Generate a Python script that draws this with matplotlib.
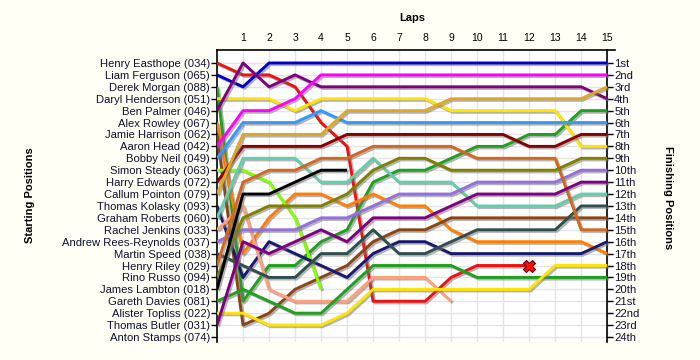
import matplotlib
matplotlib.use('Agg')
import matplotlib.pyplot as plt
import matplotlib.patheffects as pe

plt.rcParams['font.family'] = ['Liberation Sans', 'DejaVu Sans']

# grid order at the start
drivers = ['Henry Easthope (034)', 'Liam Ferguson (065)', 'Derek Morgan (088)', 'Daryl Henderson (051)',
           'Ben Palmer (046)', 'Alex Rowley (067)', 'Jamie Harrison (062)', 'Aaron Head (042)',
           'Bobby Neil (049)', 'Simon Steady (063)', 'Harry Edwards (072)', 'Callum Pointon (079)',
           'Thomas Kolasky (093)', 'Graham Roberts (060)', 'Rachel Jenkins (033)', 'Andrew Rees-Reynolds (037)',
           'Martin Speed (038)', 'Henry Riley (029)', 'Rino Russo (094)', 'James Lambton (018)',
           'Gareth Davies (081)', 'Alister Topliss (022)', 'Thomas Butler (031)', 'Anton Stamps (074)']

colours = ['#ee1111', '#0000cc', '#1fa01f', '#ffe400', '#800080', '#ff8000', '#8b4513', '#ff00ff',
           '#3399ff', '#80ff00', '#8b0000', '#e0a820', '#191970', '#66cdaa', '#ffa07a', '#9370db',
           '#2f4f4f', '#d2691e', '#808000', '#000000', '#1fa01f', '#ffe400', '#800080', '#999999']

laps = list(range(16))
lap_labels = [str(i) for i in range(1, 16)]

# position of each driver after each lap (lap 0 = grid), None = out
positions = [
    [1, 2, 2, 3, 6, 8, 21, 21, 21, 19, 18, 18, 18, None, None, None],
    [2, 3, 1, 1, 1, 1, 1, 1, 1, 1, 1, 1, 1, 1, 1, 1],
    [3, 21, 18, 18, 16, 15, 11, 10, 10, 9, 8, 8, 7, 7, 5, 5],
    [4, 4, 4, 5, 4, 4, 4, 4, 4, 5, 5, 5, 5, 5, 8, 8],
    [5, 1, 3, 2, 3, 3, 3, 3, 3, 3, 3, 3, 3, 3, 3, 4],
    [6, 17, 14, 12, 12, 13, 12, 13, 13, 15, 16, 16, 16, 16, 16, 17],
    [7, 23, 22, 20, 19, 18, 16, 15, 15, 14, 14, 14, 14, 14, 14, 14],
    [8, 5, 5, 4, 2, 2, 2, 2, 2, 2, 2, 2, 2, 2, 2, 2],
    [9, 6, 6, 6, 5, 6, 6, 6, 6, 6, 6, 6, 6, 6, 6, 6],
    [10, 10, 11, 14, 20, None, None, None, None, None, None, None, None, None, None, None],
    [11, 8, 8, 8, 8, 7, 7, 7, 7, 7, 7, 7, 8, 8, 7, 7],
    [12, 7, 7, 7, 7, 5, 5, 5, 5, 4, 4, 4, 4, 4, 4, 3],
    [13, 19, 16, 17, 18, 19, 17, 16, 16, 17, 17, 17, 17, 17, 17, 16],
    [14, 9, 9, 9, 11, 11, 9, 11, 11, 11, 13, 13, 13, 13, 12, 12],
    [15, 13, 20, 21, 21, 21, 19, 19, 19, 21, None, None, None, None, None, None],
    [16, 15, 15, 15, 14, 14, 13, 12, 12, 12, 11, 11, 11, 11, 10, 10],
    [17, 18, 19, 19, 17, 17, 15, 17, 17, 16, 15, 15, 15, 15, 13, 13],
    [18, 11, 10, 10, 9, 9, 8, 8, 8, 8, 9, 9, 9, 9, 15, 15],
    [19, 14, 13, 13, 13, 12, 10, 9, 9, 10, 10, 10, 10, 10, 9, 9],
    [20, 12, 12, 11, 10, 10, None, None, None, None, None, None, None, None, None, None],
    [21, 20, 21, 22, 22, 20, 18, 18, 18, 18, 19, 19, 19, 19, 19, 19],
    [22, 22, 23, 23, 23, 22, 20, 20, 20, 20, 20, 20, 20, 18, 18, 18],
    [23, 16, 17, 16, 15, 16, 14, 14, 14, 13, 12, 12, 12, 12, 11, 11],
    [None] * 16,
]

crash_lap = 12
crash_pos = 18

finish_labels = ['1st', '2nd', '3rd', '4th', '5th', '6th', '7th', '8th', '9th', '10th', '11th', '12th',
                 '13th', '14th', '15th', '16th', '17th', '18th', '19th', '20th', '21st', '22nd', '23rd', '24th']

txt = '#101030'
fig = plt.figure(figsize=(7, 3.6), dpi=100, facecolor='#fffff5')
ax = fig.add_axes([217 / 700, 18 / 360, 398 / 700, 292 / 360])
ax.set_facecolor('white')
ax.set_xlim(0, 15.3)
ax.set_ylim(24.42, -0.09)

for p in range(1, 25):
    ax.axhline(p, color='#e4e4e4', lw=1, zorder=0)
for l in laps[1:]:
    ax.axvline(l, color='#e4e4e4', lw=1, zorder=0)

shadow = [pe.SimpleLineShadow(offset=(1.2, -1.2), shadow_color='#777777', alpha=0.55), pe.Normal()]
for pos, col in zip(positions, colours):
    xs = [l for l, p in zip(laps, pos) if p is not None]
    ys = [p for p in pos if p is not None]
    if xs:
        ax.plot(xs, ys, color=col, lw=2.1, solid_capstyle='butt', path_effects=shadow, zorder=3)

ax.plot([crash_lap], [crash_pos], marker='X', ms=9, color='#ff1010', mec='#600000', mew=0.8, zorder=5)

ax.xaxis.tick_top()
ax.set_xticks(laps[1:], lap_labels)
ax.tick_params(axis='x', length=0, pad=5, labelsize=7.5, labelcolor='black')
ax.set_yticks(range(1, 25), drivers)
ax.tick_params(axis='y', length=4, width=1, pad=1, labelsize=8.1, labelcolor=txt)

ax.spines['bottom'].set_visible(False)
ax.spines['right'].set_visible(False)
ax.spines['left'].set_linewidth(1.2)
ax.spines['top'].set_linewidth(1.2)

sec = ax.secondary_yaxis(15 / 15.3)
sec.set_yticks(range(1, 25), finish_labels)
sec.tick_params(length=4, width=1, pad=1, labelsize=8.1, labelcolor=txt)
sec.spines['right'].set_linewidth(1.2)

fig.text(412 / 700, 1 - 18 / 360, 'Laps', ha='center', va='center', weight='bold', fontsize=8)
fig.text(30 / 700, 1 - 195 / 360, 'Starting Positions', ha='center', va='center', rotation=90,
         weight='bold', fontsize=8)
fig.text(668 / 700, 1 - 198 / 360, 'Finishing Positions', ha='center', va='center', rotation=-90,
         weight='bold', fontsize=8)

fig.savefig('out.png', dpi=100, facecolor=fig.get_facecolor())
